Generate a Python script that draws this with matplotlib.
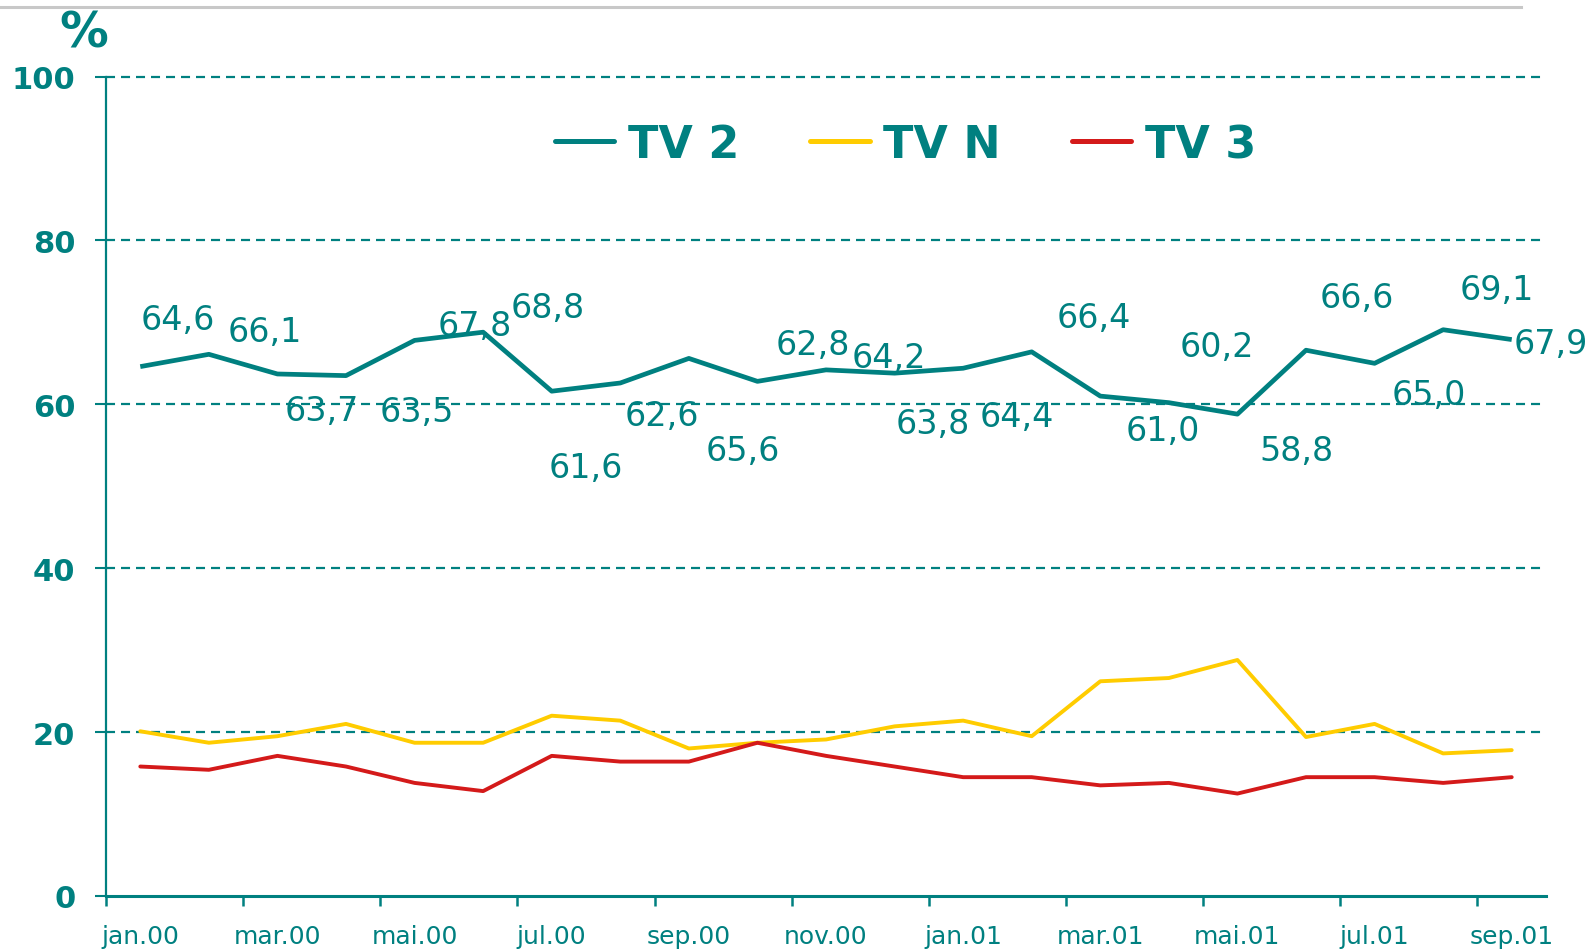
import matplotlib
matplotlib.use("Agg")
import matplotlib.pyplot as plt
from matplotlib.lines import Line2D

months = ["jan.00", "feb.00", "mar.00", "apr.00", "mai.00", "jun.00", "jul.00",
          "aug.00", "sep.00", "okt.00", "nov.00", "des.00", "jan.01", "feb.01",
          "mar.01", "apr.01", "mai.01", "jun.01", "jul.01", "aug.01", "sep.01"]
tv2 = [64.6, 66.1, 63.7, 63.5, 67.8, 68.8, 61.6, 62.6, 65.6, 62.8, 64.2,
       63.8, 64.4, 66.4, 61.0, 60.2, 58.8, 66.6, 65.0, 69.1, 67.9]
tvn = [20.1, 18.7, 19.5, 21.0, 18.7, 18.7, 22.0, 21.4, 18.0, 18.7, 19.1,
       20.7, 21.4, 19.5, 26.2, 26.6, 28.8, 19.4, 21.0, 17.4, 17.8]
tv3 = [15.8, 15.4, 17.1, 15.8, 13.8, 12.8, 17.1, 16.4, 16.4, 18.7, 17.1,
       15.8, 14.5, 14.5, 13.5, 13.8, 12.5, 14.5, 14.5, 13.8, 14.5]
series_names = ["TV 2", "TV N", "TV 3"]
y_ticks = [0, 20, 40, 60, 80, 100]

# label placement offsets (pixels, right/down) for the TV 2 value labels
label_offsets = [(38, -47), (56, -23), (44, 37), (71, 36), (60, -15), (65, -25),
                 (34, 76), (42, 33), (54, 92), (55, -37), (63, -12), (38, 50),
                 (54, 48), (62, -34), (63, 34), (48, -56), (59, 36), (51, -53),
                 (54, 31), (54, -40), (39, 4)]

TEAL = "#008080"
YELLOW = "#FFCC00"
RED = "#D41A1A"

plt.rcParams["lines.scale_dashes"] = False
W, H = 1596, 953
fig = plt.figure(figsize=(W / 100, H / 100), dpi=100)
ax = fig.add_axes([106 / W, 1 - 897 / H, (1546 - 106) / W, (897 - 77.5) / H])

x = list(range(len(months)))
ax.plot(x, tvn, color=YELLOW, lw=2.8, solid_capstyle="round", zorder=3)
ax.plot(x, tv3, color=RED, lw=2.8, solid_capstyle="round", zorder=3)
ax.plot(x, tv2, color=TEAL, lw=3.4, solid_capstyle="butt", zorder=4)

for i, (v, (dx, dy)) in enumerate(zip(tv2, label_offsets)):
    ax.annotate(f"{v:.1f}".replace(".", ","), (i, v),
                xytext=(dx * 0.72, -dy * 0.72), textcoords="offset points",
                ha="center", va="center", fontsize=24, color=TEAL, zorder=5)

ax.set_xlim(-0.5, len(months) - 0.5)
ax.set_ylim(0, 100)
ax.set_yticks(y_ticks)
ax.set_yticklabels([str(t) for t in y_ticks], fontsize=22, fontweight="bold", color=TEAL)
ax.tick_params(axis="y", direction="out", length=8, width=1.5, color=TEAL, pad=14)

ax.set_xticks([i - 0.5 for i in range(0, len(months), 2)])
ax.set_xticklabels([])
ax.set_xticks(list(range(0, len(months), 2)), minor=True)
ax.set_xticklabels([months[i] for i in range(0, len(months), 2)], minor=True,
                   fontsize=18, color=TEAL)
ax.tick_params(axis="x", which="major", direction="out", length=7, width=1.8, color=TEAL)
ax.tick_params(axis="x", which="minor", length=0, pad=20)

for yv in y_ticks[1:]:
    ax.axhline(yv, color=TEAL, lw=1.6, linestyle=(0, (6.5, 4.3)), zorder=1,
               xmax=(1543 - 106) / (1546 - 106), clip_on=False)

for s in ["top", "right"]:
    ax.spines[s].set_visible(False)
ax.spines["left"].set_color(TEAL)
ax.spines["left"].set_linewidth(1.6)
ax.spines["bottom"].set_color(TEAL)
ax.spines["bottom"].set_linewidth(2.2)

handles = [Line2D([], [], color=TEAL, lw=3.6, solid_capstyle="round"),
           Line2D([], [], color=YELLOW, lw=3.6, solid_capstyle="round"),
           Line2D([], [], color=RED, lw=3.6, solid_capstyle="round")]
leg = ax.legend(handles, series_names, loc="center", bbox_to_anchor=(0.555, 0.917),
                ncol=3, frameon=False, handlelength=1.34, handletextpad=0.3,
                columnspacing=1.6, borderpad=0,
                prop={"size": 32, "weight": "bold"}, labelcolor=TEAL)

fig.text(83.5 / W, 1 - 33.5 / H, "%", fontsize=35, fontweight="bold", color=TEAL,
         ha="center", va="center")
fig.add_artist(Line2D([0, 1521 / W], [1 - 7.5 / H, 1 - 7.5 / H], color="#c8c8c8",
                      lw=2.2, transform=fig.transFigure))

fig.savefig("out.png", dpi=100)
